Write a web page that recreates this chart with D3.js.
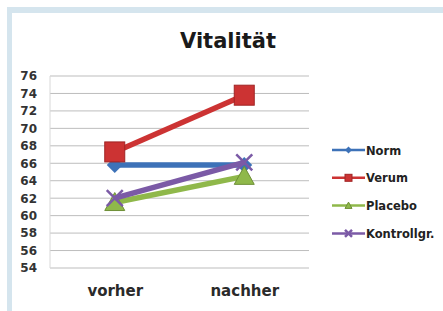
<!DOCTYPE html>
<html>
<head>
<meta charset="utf-8">
<script src="https://cdn.jsdelivr.net/npm/d3@7"></script>
<style>
  body { margin: 0; background: #fff; }
  svg { display: block; font-family: "DejaVu Sans", sans-serif; font-weight: bold; }
</style>
</head>
<body>
<script>
var categories = ["vorher", "nachher"];
var seriesNames = ["Norm", "Verum", "Placebo", "Kontrollgr."];
var normValues = [65.8, 65.8];
var verumValues = [67.3, 73.8];
var placeboValues = [61.5, 64.5];
var kontrollValues = [62, 66.1];
var yTicks = [54, 56, 58, 60, 62, 64, 66, 68, 70, 72, 74, 76];

var colors = ["#3d72b8", "#cc3333", "#8fb84a", "#7b5aa6"];
var shapes = ["diamond", "square", "triangle", "cross"];
var allValues = [normValues, verumValues, placeboValues, kontrollValues];

var W = 443, H = 311;
var margin = { top: 76, right: 134, bottom: 43, left: 50 },
    width = W - margin.left - margin.right,
    height = H - margin.top - margin.bottom;

var svg = d3.select("body").append("svg")
    .attr("width", W)
    .attr("height", H);

// light blue frame along top and left
svg.append("rect").attr("x", 7).attr("y", 7).attr("width", W).attr("height", H)
    .attr("fill", "#d5e5ee");
svg.append("rect").attr("x", 12).attr("y", 13).attr("width", W).attr("height", H)
    .attr("fill", "#fff");

svg.append("text")
    .attr("x", 228).attr("y", 48)
    .attr("text-anchor", "middle")
    .attr("font-size", 21)
    .attr("fill", "#1a1a1a")
    .text("Vitalität");

var g = svg.append("g")
    .attr("transform", "translate(" + margin.left + "," + margin.top + ")");

var x = d3.scalePoint().domain(categories).range([0, width]).padding(0.5);
var y = d3.scaleLinear().domain([54, 76]).range([height, 0]);

// gridlines
g.selectAll(".grid")
    .data(yTicks)
    .enter().append("line")
    .attr("x1", 0).attr("x2", width)
    .attr("y1", function (d) { return y(d); })
    .attr("y2", function (d) { return y(d); })
    .attr("stroke", "#bdbdbd")
    .attr("stroke-width", 1);

g.append("line")
    .attr("x1", 0).attr("x2", 0).attr("y1", 0).attr("y2", height)
    .attr("stroke", "#d8d8d8");

var yAxis = d3.axisLeft(y).tickValues(yTicks).tickSize(0).tickPadding(13);
g.append("g").call(yAxis)
    .call(function (a) { a.select(".domain").remove(); })
    .selectAll("text")
    .attr("font-size", 12)
    .attr("font-family", "DejaVu Sans, sans-serif")
    .attr("font-weight", "bold")
    .attr("fill", "#333");

var xAxis = d3.axisBottom(x).tickSize(0).tickPadding(17);
g.append("g").attr("transform", "translate(0," + height + ")").call(xAxis)
    .call(function (a) { a.select(".domain").remove(); })
    .selectAll("text")
    .attr("font-size", 15)
    .attr("font-family", "DejaVu Sans, sans-serif")
    .attr("font-weight", "bold")
    .attr("fill", "#2a2a2a");

function drawMarker(sel, shape, color, s) {
    if (shape === "diamond") {
        sel.append("path").attr("d", "M0," + (-s) + "L" + s + ",0L0," + s + "L" + (-s) + ",0Z")
            .attr("fill", color);
    } else if (shape === "square") {
        sel.append("rect").attr("x", -s).attr("y", -s).attr("width", 2 * s).attr("height", 2 * s)
            .attr("fill", color).attr("stroke", "#a02424").attr("stroke-width", 1);
    } else if (shape === "triangle") {
        sel.append("path").attr("d", "M0," + (-s) + "L" + s + "," + (s * 0.8) + "L" + (-s) + "," + (s * 0.8) + "Z")
            .attr("fill", color).attr("stroke", "#6e8f36").attr("stroke-width", 1);
    } else {
        sel.append("path").attr("d", "M" + (-s) + "," + (-s) + "L" + s + "," + s + "M" + s + "," + (-s) + "L" + (-s) + "," + s)
            .attr("stroke", color).attr("stroke-width", 2.5).attr("fill", "none");
    }
}

var line = d3.line()
    .x(function (d, i) { return x(categories[i]); })
    .y(function (d) { return y(d); });

var markerSize = [8, 10, 10, 8];

allValues.forEach(function (vals, k) {
    g.append("path")
        .datum(vals)
        .attr("d", line)
        .attr("fill", "none")
        .attr("stroke", colors[k])
        .attr("stroke-width", 5.5);
    vals.forEach(function (v, i) {
        var m = g.append("g").attr("transform", "translate(" + x(categories[i]) + "," + y(v) + ")");
        drawMarker(m, shapes[k], colors[k], markerSize[k]);
    });
});

// legend
var legend = svg.append("g").attr("transform", "translate(332,150)");
seriesNames.forEach(function (name, k) {
    var row = legend.append("g").attr("transform", "translate(0," + (k * 27.8) + ")");
    row.append("line").attr("x1", 0).attr("x2", 33).attr("y1", 0).attr("y2", 0)
        .attr("stroke", colors[k]).attr("stroke-width", 2.5);
    var m = row.append("g").attr("transform", "translate(16.5,0)");
    drawMarker(m, shapes[k], colors[k], 3.5);
    row.append("text").attr("x", 34).attr("y", 4.5)
        .attr("font-size", 11.5)
        .attr("fill", "#222")
        .text(name);
});
</script>
</body>
</html>
